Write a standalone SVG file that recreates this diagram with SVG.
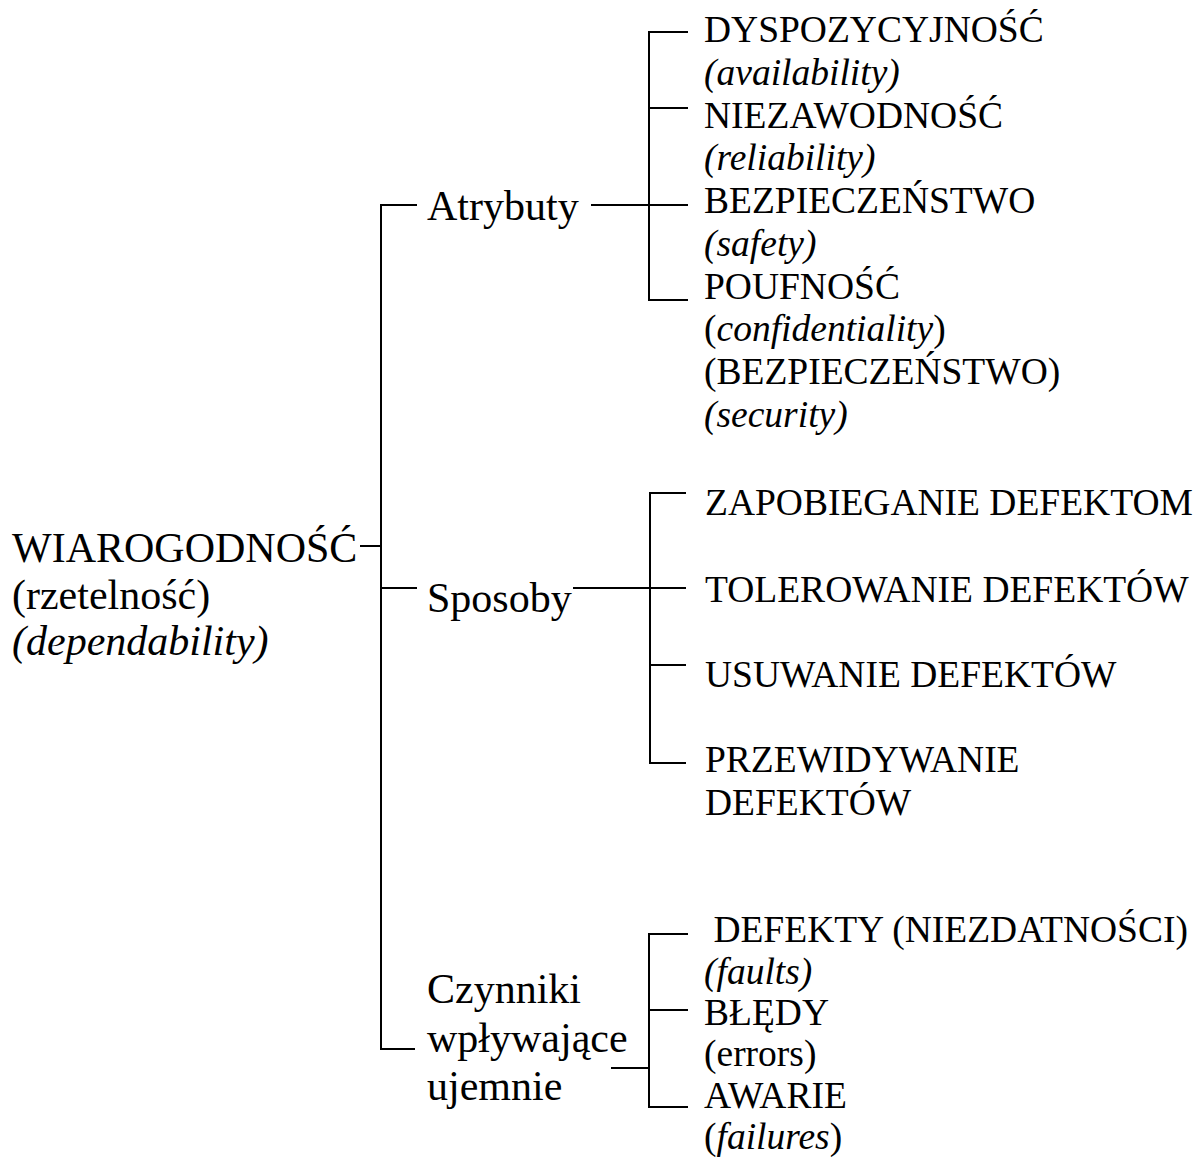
<svg xmlns="http://www.w3.org/2000/svg" width="1195" height="1166" viewBox="0 0 1195 1166">
  <style>
    text { font-family: "Liberation Serif", "Times New Roman", serif; fill: #000; }
    .big { font-size: 42px; }
    .small { font-size: 37.5px; }
    .it { font-style: italic; }
    .wire { fill: none; stroke: #000; stroke-width: 2; }
  </style>
  <rect width="1195" height="1166" fill="#fff"/>

  <!-- connectors: tree brackets -->
  <g id="connectors" class="wire">
    <!-- root to three branches -->
    <path d="M360 546 H381"/>
    <path d="M417 205 H381 V1049 H415"/>
    <path d="M381 588 H417"/>
    <!-- Atrybuty bracket -->
    <path d="M591 205 H688"/>
    <path d="M688 32 H649 V300 H688"/>
    <path d="M649 108 H688"/>
    <!-- Sposoby bracket -->
    <path d="M573 588 H686"/>
    <path d="M686 493 H650 V763 H686"/>
    <path d="M650 665 H686"/>
    <!-- Czynniki bracket -->
    <path d="M611 1068 H649"/>
    <path d="M688 934 H649 V1107 H688"/>
    <path d="M649 1010 H688"/>
  </g>

  <g id="root">
    <text class="big" x="12" y="562">WIAROGODNOŚĆ</text>
    <text class="big" x="12" y="609">(rzetelność)</text>
    <text class="big it" x="12" y="655">(dependability)</text>
  </g>

  <g id="atrybuty">
    <text class="big" x="427" y="220">Atrybuty</text>
  </g>
  <g id="sposoby">
    <text class="big" x="427" y="612">Sposoby</text>
  </g>
  <g id="czynniki">
    <text class="big" x="427" y="1003">Czynniki</text>
    <text class="big" x="427" y="1052">wpływające</text>
    <text class="big" x="427" y="1100">ujemnie</text>
  </g>

  <g id="dyspozycyjnosc">
    <text class="small" x="704" y="42">DYSPOZYCYJNOŚĆ</text>
    <text class="small it" x="704" y="85">(availability)</text>
  </g>
  <g id="niezawodnosc">
    <text class="small" x="704" y="128">NIEZAWODNOŚĆ</text>
    <text class="small it" x="704" y="170">(reliability)</text>
  </g>
  <g id="bezpieczenstwo">
    <text class="small" x="704" y="213">BEZPIECZEŃSTWO</text>
    <text class="small it" x="704" y="256">(safety)</text>
  </g>
  <g id="poufnosc">
    <text class="small" x="704" y="299">POUFNOŚĆ</text>
    <text class="small" x="704" y="341">(<tspan class="it">confidentiality</tspan>)</text>
    <text class="small" x="704" y="384">(BEZPIECZEŃSTWO)</text>
    <text class="small it" x="704" y="427">(security)</text>
  </g>

  <g id="zapobieganie">
    <text class="small" x="705" y="515">ZAPOBIEGANIE DEFEKTOM</text>
  </g>
  <g id="tolerowanie">
    <text class="small" x="705" y="602">TOLEROWANIE DEFEKTÓW</text>
  </g>
  <g id="usuwanie">
    <text class="small" x="705" y="687">USUWANIE DEFEKTÓW</text>
  </g>
  <g id="przewidywanie">
    <text class="small" x="705" y="772">PRZEWIDYWANIE</text>
    <text class="small" x="705" y="815">DEFEKTÓW</text>
  </g>

  <g id="defekty">
    <text class="small" x="704" y="942" xml:space="preserve"> DEFEKTY (NIEZDATNOŚCI)</text>
    <text class="small it" x="704" y="984">(faults)</text>
  </g>
  <g id="bledy">
    <text class="small" x="704" y="1025">BŁĘDY</text>
    <text class="small" x="704" y="1066">(errors)</text>
  </g>
  <g id="awarie">
    <text class="small" x="704" y="1108">AWARIE</text>
    <text class="small" x="704" y="1149">(<tspan class="it">failures</tspan>)</text>
  </g>
</svg>
